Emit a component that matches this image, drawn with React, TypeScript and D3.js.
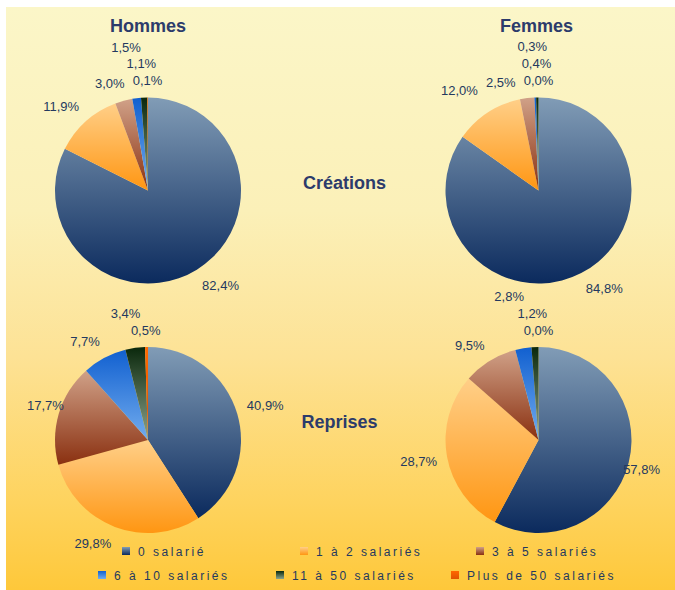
import React, { useEffect, useRef } from "react";
import * as d3 from "d3";

// categories and values (percentages)
const categories = [
  "0 salarié",
  "1 à 2 salariés",
  "3 à 5 salariés",
  "6 à 10 salariés",
  "11 à 50 salariés",
  "Plus de 50 salariés",
];
const hommesCreations = [82.4, 11.9, 3.0, 1.5, 1.1, 0.1];
const femmesCreations = [84.8, 12.0, 2.5, 0.3, 0.4, 0.0];
const hommesReprises = [40.9, 29.8, 17.7, 7.7, 3.4, 0.5];
const femmesReprises = [57.8, 28.7, 9.5, 2.8, 1.2, 0.0];

const columnTitles = ["Hommes", "Femmes"];
const rowTitles = ["Créations", "Reprises"];

// slice gradients, top colour -> bottom colour
const sliceTop = ["#819CB6", "#FFCF88", "#D0A188", "#1160D0", "#0A280C", "#FF6A00"];
const sliceBottom = ["#0B2A5D", "#FF9612", "#8A3010", "#72ACEE", "#8EA48C", "#E05400"];

const W = 675;
const H = 590;
const FONT = "'Liberation Sans', Arial, Helvetica, sans-serif";
const TEXT = "#24395F";

type Box = { x0: number; x1: number; y0: number; y1: number };

const App: React.FC = () => {
  const ref = useRef<SVGSVGElement | null>(null);

  useEffect(() => {
    if (!ref.current) return;
    document.body.style.margin = "0";

    const svg = d3.select(ref.current);
    svg.selectAll("*").remove();

    const defs = svg.append("defs");

    // background gradient
    const bg = defs
      .append("linearGradient")
      .attr("id", "bg")
      .attr("x1", 0)
      .attr("y1", 0)
      .attr("x2", 0)
      .attr("y2", 1);
    [
      [0, "#FBF6C8"],
      [0.35, "#FBF0B8"],
      [0.6, "#FDE295"],
      [0.85, "#FED35E"],
      [1, "#FEC83A"],
    ].forEach(([o, c]) => bg.append("stop").attr("offset", o as number).attr("stop-color", c as string));

    categories.forEach((_, i) => {
      const g = defs
        .append("linearGradient")
        .attr("id", `slice-${i}`)
        .attr("x1", 0)
        .attr("y1", 0)
        .attr("x2", 0)
        .attr("y2", 1);
      g.append("stop").attr("offset", 0).attr("stop-color", sliceTop[i]);
      g.append("stop").attr("offset", 1).attr("stop-color", sliceBottom[i]);
    });

    svg
      .append("rect")
      .attr("x", 6)
      .attr("y", 7)
      .attr("width", W - 6)
      .attr("height", H - 7)
      .attr("fill", "url(#bg)");

    const radius = 93;
    const colX = [148, 538.5];
    const rowY = [190.5, 440];
    const clampX = [
      [27, 330],
      [345, 660],
    ];

    // column titles
    const titleBoxes: Box[] = [];
    columnTitles.forEach((title, i) => {
      const t = svg
        .append("text")
        .attr("x", colX[i] - (i === 1 ? 2 : 0))
        .attr("y", 32)
        .attr("text-anchor", "middle")
        .style("font-family", FONT)
        .style("font-size", "18px")
        .style("font-weight", "bold")
        .attr("fill", "#2C3B6B")
        .text(title);
      const bb = (t.node() as SVGTextElement).getBBox();
      titleBoxes.push({ x0: bb.x, x1: bb.x + bb.width, y0: bb.y, y1: bb.y + bb.height });
    });

    const panels = [
      { values: hommesCreations, col: 0, row: 0 },
      { values: femmesCreations, col: 1, row: 0 },
      { values: hommesReprises, col: 0, row: 1 },
      { values: femmesReprises, col: 1, row: 1 },
    ];

    const pie = d3.pie<number>().sort(null).value((d) => d);
    const arc = d3.arc<d3.PieArcDatum<number>>().innerRadius(0).outerRadius(radius);
    const fmt = (v: number) => `${v.toFixed(1).replace(".", ",")}%`;
    const clamp = (v: number, a: number, b: number) => Math.max(a, Math.min(b, v));

    panels.forEach((p) => {
      const cx = colX[p.col];
      const cy = rowY[p.row];
      const arcs = pie(p.values);

      const g = svg.append("g").attr("transform", `translate(${cx},${cy})`);
      g.selectAll("path")
        .data(arcs)
        .enter()
        .append("path")
        .attr("d", arc)
        .attr("fill", (d) => `url(#slice-${d.index})`);

      // labels outside the pie; on collision push outward or sideways (ccw)
      const labelG = svg.append("g");
      const placed: Box[] = p.row === 0 ? [titleBoxes[p.col]] : [];
      const boxH = 14;
      const padX = 4;
      const padY = 1;

      for (let i = arcs.length - 1; i >= 0; i--) {
        const d = arcs[i];
        const t = labelG
          .append("text")
          .attr("text-anchor", "middle")
          .attr("dominant-baseline", "central")
          .style("font-family", FONT)
          .style("font-size", "13px")
          .attr("fill", TEXT)
          .text(fmt(d.data));
        const w = (t.node() as SVGTextElement).getComputedTextLength();
        const a = (d.startAngle + d.endAngle) / 2;
        const ux = Math.sin(a);
        const uy = -Math.cos(a);
        const tx = -Math.cos(a);
        const ty = -Math.sin(a);
        const fx = clamp(ux / 0.35, -1, 1);
        const fy = clamp(uy / 0.35, -1, 1);
        const R0 = radius + 10;
        const bx = cx + ux * R0 + (fx * w) / 2;
        const by = cy + uy * R0 + (fy * boxH) / 2;

        const box = (x: number, y: number): Box => ({
          x0: x - w / 2 - padX,
          x1: x + w / 2 + padX,
          y0: y - boxH / 2 - padY,
          y1: y + boxH / 2 + padY,
        });
        const at = (dR: number, dT: number) => {
          const x = clamp(bx + ux * dR + tx * dT, clampX[p.col][0] + w / 2, clampX[p.col][1] - w / 2);
          const y = by + uy * dR + ty * dT;
          return { x, y };
        };
        const hits = (x: number, y: number) => {
          const b = box(x, y);
          return placed.some((o) => b.x0 < o.x1 && b.x1 > o.x0 && b.y0 < o.y1 && b.y1 > o.y0);
        };

        let pos = at(0, 0);
        search: for (let cost = 0; cost < 240; cost++) {
          for (let dT = 0; dT * 3 <= cost; dT++) {
            const c = at(cost - dT * 3, dT);
            if (!hits(c.x, c.y)) {
              pos = c;
              break search;
            }
          }
        }
        placed.push(box(pos.x, pos.y));
        t.attr("x", pos.x).attr("y", pos.y);
      }
    });

    // row titles
    const rowTitleX = [344.5, 339.5];
    const rowTitleY = [189, 428];
    rowTitles.forEach((title, i) => {
      svg
        .append("text")
        .attr("x", rowTitleX[i])
        .attr("y", rowTitleY[i])
        .attr("text-anchor", "middle")
        .style("font-family", FONT)
        .style("font-size", "18px")
        .style("font-weight", "bold")
        .attr("fill", "#2C3B6B")
        .text(title);
    });

    // legend
    const legendX = [122, 300, 476, 98, 276, 451];
    const legendY = [547, 547, 547, 571, 571, 571];
    categories.forEach((c, i) => {
      const row = svg.append("g").attr("transform", `translate(${legendX[i]},${legendY[i]})`);
      row
        .append("rect")
        .attr("width", 8)
        .attr("height", 8)
        .attr("fill", `url(#slice-${i})`);
      row
        .append("text")
        .attr("x", 16)
        .attr("y", 9)
        .style("font-family", FONT)
        .style("font-size", "12px")
        .style("letter-spacing", "2.5px")
        .attr("fill", TEXT)
        .text(c);
    });

    return () => {
      d3.select(ref.current).selectAll("*").remove();
    };
  }, []);

  return <svg ref={ref} width={W} height={H} style={{ display: "block" }} />;
};

export default App;
